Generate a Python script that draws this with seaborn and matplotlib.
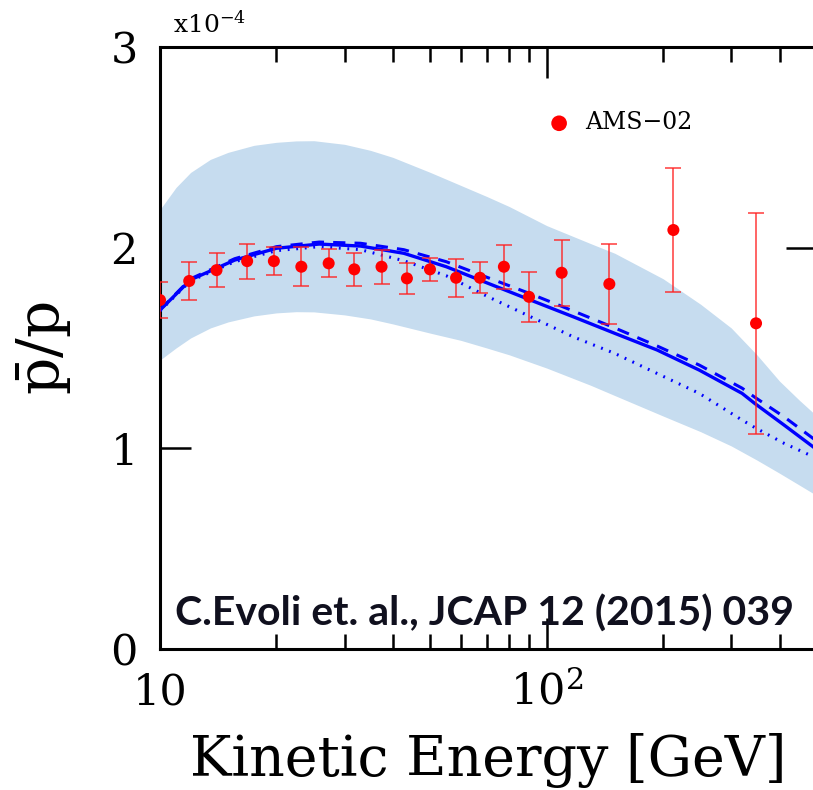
import numpy as np
import pandas as pd
import matplotlib
matplotlib.use("Agg")
import matplotlib.pyplot as plt
import matplotlib.ticker as mticker
import seaborn as sns

# ---------------- data ----------------
energy_data = [10.0, 11.9, 14.0, 16.8, 19.7, 23.2, 27.3, 31.8, 37.4, 43.5,
               49.9, 58.3, 67.2, 77.5, 90.0, 109.3, 145.2, 212.6, 347.8]
ratio_data = [1.739, 1.834, 1.888, 1.933, 1.933, 1.905, 1.922, 1.892, 1.905, 1.847,
              1.892, 1.850, 1.850, 1.905, 1.755, 1.875, 1.819, 2.088, 1.623]
ratio_err = [0.09, 0.094, 0.083, 0.087, 0.070, 0.096, 0.070, 0.083, 0.085, 0.078,
             0.056, 0.095, 0.078, 0.110, 0.125, 0.165, 0.197, 0.310, 0.550]

energy_model = [10, 12, 15.6, 20, 25.8, 33, 42.7, 55, 70.6, 90.8,
                117, 150, 193, 248, 320, 345, 411, 500]
model_solid = [1.689, 1.840, 1.938, 1.997, 2.018, 2.008, 1.972, 1.905, 1.822, 1.739,
               1.656, 1.573, 1.490, 1.390, 1.274, 1.224, 1.116, 0.993]
model_dashed = [1.690, 1.845, 1.945, 2.005, 2.028, 2.022, 1.990, 1.930, 1.850, 1.770,
                1.685, 1.600, 1.510, 1.415, 1.300, 1.255, 1.157, 1.035]
model_dotted = [1.685, 1.835, 1.930, 1.985, 2.005, 1.990, 1.935, 1.860, 1.755, 1.656,
                1.556, 1.473, 1.373, 1.274, 1.141, 1.104, 1.025, 0.950]

energy_band = [10, 11, 12, 13.5, 15, 17.5, 20, 22.5, 25, 30, 35, 40, 50, 60, 70,
               80, 100, 130, 150, 200, 250, 300, 350, 400, 450, 500]
band_upper = [2.19, 2.30, 2.375, 2.44, 2.475, 2.51, 2.525, 2.532, 2.533, 2.515,
              2.485, 2.45, 2.375, 2.31, 2.255, 2.205, 2.11, 2.02, 1.972, 1.845,
              1.718, 1.60, 1.465, 1.335, 1.24, 1.16]
band_lower = [1.44, 1.50, 1.55, 1.60, 1.63, 1.66, 1.675, 1.681, 1.68, 1.665,
              1.645, 1.62, 1.574, 1.538, 1.50, 1.466, 1.40, 1.314, 1.263, 1.161,
              1.083, 1.012, 0.941, 0.876, 0.817, 0.764]

x_major_ticks = [10, 100]
x_major_labels = ["10", r"$10^{2}$"]
y_ticks = [0, 1, 2, 3]
y_tick_labels = ["0", "1", "2", "3"]

# ---------------- style ----------------
sns.set_style("ticks")
plt.rcParams["font.family"] = ["DejaVu Serif"]
plt.rcParams["mathtext.fontset"] = "dejavuserif"
plt.rcParams["text.color"] = "black"
plt.rcParams["axes.labelcolor"] = "black"
plt.rcParams["xtick.color"] = "black"
plt.rcParams["ytick.color"] = "black"

W, H = 813, 790
fig = plt.figure(figsize=(W / 100, H / 100), dpi=100)
ax_left, ax_right, ax_top, ax_bottom = 160, 817, 47, 649
ax = fig.add_axes([ax_left / W, 1 - ax_bottom / H,
                   (ax_right - ax_left) / W, (ax_bottom - ax_top) / H])

band_df = pd.DataFrame({"E": energy_band, "lo": band_lower, "hi": band_upper})
ax.fill_between(band_df["E"], band_df["lo"], band_df["hi"],
                color="#c6dcef", lw=0, zorder=1)

model_df = pd.DataFrame({"E": energy_model, "solid": model_solid,
                         "dashed": model_dashed, "dotted": model_dotted})
sns.lineplot(data=model_df, x="E", y="solid", ax=ax, color="#0000ff",
             lw=2.4, zorder=3, legend=False)
sns.lineplot(data=model_df, x="E", y="dashed", ax=ax, color="#0000ff",
             lw=2.2, zorder=3, legend=False)
ax.lines[-1].set_dashes([4.0, 3.0])
sns.lineplot(data=model_df, x="E", y="dotted", ax=ax, color="#0000ff",
             lw=2.2, zorder=3, legend=False)
ax.lines[-1].set_linestyle((0, (0.6, 2.2)))

data_df = pd.DataFrame({"E": energy_data, "r": ratio_data, "err": ratio_err})
ax.errorbar(data_df["E"], data_df["r"], yerr=data_df["err"], fmt="none",
            ecolor="#ff2020", elinewidth=1.3, capsize=5.5, capthick=1.3,
            alpha=0.75, zorder=4)
sns.scatterplot(data=data_df, x="E", y="r", ax=ax, color="#ff0000", s=75,
                edgecolor="none", zorder=5, label="AMS\u221202")

ax.set_xscale("log")
ax.set_xlim(10, 500)
ax.set_ylim(0, 3)

ax.xaxis.set_major_locator(mticker.FixedLocator(x_major_ticks))
ax.xaxis.set_major_formatter(mticker.FixedFormatter(x_major_labels))
ax.xaxis.set_minor_locator(mticker.LogLocator(base=10, subs=np.arange(2, 10)))
ax.xaxis.set_minor_formatter(mticker.NullFormatter())
ax.set_yticks(y_ticks)
ax.set_yticklabels(y_tick_labels)
ax.yaxis.set_minor_locator(mticker.NullLocator())

ax.tick_params(which="both", direction="in", top=True, right=True,
               width=1.8, color="black", labelcolor="black", labelsize=31,
               pad=16)
ax.tick_params(which="major", length=22)
ax.tick_params(which="minor", length=11)
for s in ax.spines.values():
    s.set_linewidth(2.2)
    s.set_color("black")

ax.set_xlabel("Kinetic Energy [GeV]", fontsize=40, labelpad=14, color="black")
ax.set_ylabel(r"$\bar{\mathrm{p}}/\mathrm{p}$", fontsize=42, color="black")
ax.yaxis.set_label_coords((73 - ax_left) / (ax_right - ax_left), 0.5)

fig.text(173 / W, 1 - 33 / H, r"x10$^{-4}$", fontsize=18, ha="left",
         va="baseline", color="black")

leg = ax.legend(loc="center left", bbox_to_anchor=(0.5895, 0.8738),
                frameon=False, borderpad=0, borderaxespad=0,
                handlelength=1.0, handletextpad=0.6, markerscale=1.3,
                prop={"family": "DejaVu Serif", "size": 17})
for t in leg.get_texts():
    t.set_color("black")

ax.text((175 - ax_left) / (ax_right - ax_left), (649 - 626) / (649 - 47),
        "C.Evoli et. al., JCAP 12 (2015) 039", transform=ax.transAxes,
        fontsize=29.5, fontweight="bold", color="#10101e", ha="left",
        va="baseline", family=["Lato", "DejaVu Sans"], zorder=6)

fig.savefig("out.png", dpi=100)
